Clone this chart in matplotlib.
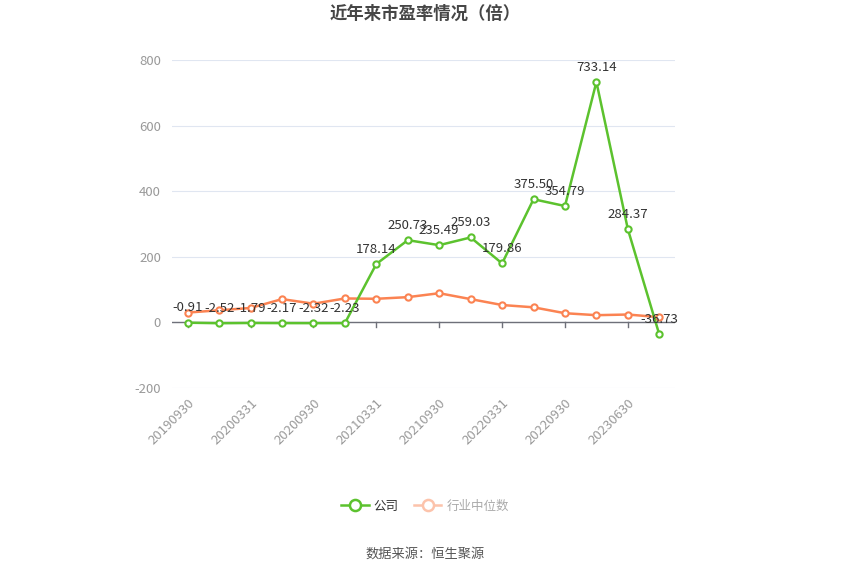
import numpy as np
import matplotlib
matplotlib.use('Agg')
import matplotlib.pyplot as plt
from matplotlib.lines import Line2D

plt.rcParams['font.family'] = ['Noto Sans CJK SC', 'DejaVu Sans']
plt.rcParams['axes.unicode_minus'] = False

# data
dates = ['20190930', '20191231', '20200331', '20200630', '20200930', '20201231',
         '20210331', '20210630', '20210930', '20211231', '20220331', '20220630',
         '20220930', '20230331', '20230630', '20230930']
company = [-0.91, -2.52, -1.79, -2.17, -2.32, -2.23, 178.14, 250.73, 235.49,
           259.03, 179.86, 375.50, 354.79, 733.14, 284.37, -36.73]
industry = [30, 37, 44, 71, 57, 73, 72, 77, 89, 71, 53, 46, 28, 22, 24, 16]

green = '#5cc22e'
orange = '#fb8352'

fig = plt.figure(figsize=(8.5, 5.75), dpi=100)
ax = fig.add_axes([172 / 850, 1 - 388 / 575, 503 / 850, 328 / 575])

x = np.arange(len(dates))
ax.plot(x, industry, color=orange, lw=1.8, marker='o', ms=4.5,
        markerfacecolor='white', markeredgewidth=1.5, zorder=3)
ax.plot(x, company, color=green, lw=1.8, marker='o', ms=4.5,
        markerfacecolor='white', markeredgewidth=1.5, zorder=4)

for xi, v in zip(x, company):
    ax.annotate(f'{v:.2f}', (xi, v), xytext=(0, 6), textcoords='offset points',
                ha='center', va='bottom', fontsize=9.5, color='#333333', zorder=5)

ax.set_xlim(-0.5, len(dates) - 0.5)
ax.set_ylim(-200, 800)
ax.set_yticks([-200, 0, 200, 400, 600, 800])
ax.grid(axis='y', color='#e0e6f1', lw=0.8)
ax.set_axisbelow(True)
for s in ax.spines.values():
    s.set_visible(False)
ax.axhline(0, color='#6e7079', lw=1, zorder=2)

ax.set_xticks(x[::2])
ax.set_xticklabels(dates[::2], rotation=45, ha='right', rotation_mode='anchor',
                   color='#999999', fontsize=9.5)
ax.tick_params(axis='x', length=0, pad=6)
ax.tick_params(axis='y', length=0, colors='#999999', labelsize=9.5, pad=8)
# small ticks on the zero line
for xi in x[::2]:
    ax.plot([xi, xi], [0, -14], color='#6e7079', lw=1, zorder=2, clip_on=False)

fig.text(0.5, 1 - 14 / 575, '近年来市盈率情况（倍）', ha='center', va='center',
         fontsize=12.5, fontweight='bold', color='#464646')

handles = [
    Line2D([], [], color=green, lw=1.8, marker='o', ms=8, markerfacecolor='white',
           markeredgewidth=1.8),
    Line2D([], [], color='#fcc3ab', lw=1.8, marker='o', ms=8, markerfacecolor='white',
           markeredgewidth=1.8),
]
leg = fig.legend(handles, ['公司', '行业中位数'], loc='center',
                 bbox_to_anchor=(0.5, 1 - 506 / 575), ncol=2, frameon=False,
                 fontsize=9, handlelength=2.2, columnspacing=1.2, handletextpad=0.4)
leg.get_texts()[0].set_color('#333333')
leg.get_texts()[1].set_color('#aaaaaa')

fig.text(0.5, 1 - 554 / 575, '数据来源：恒生聚源', ha='center', va='center',
         fontsize=9.5, color='#555555')

fig.savefig('out.png', dpi=100)
